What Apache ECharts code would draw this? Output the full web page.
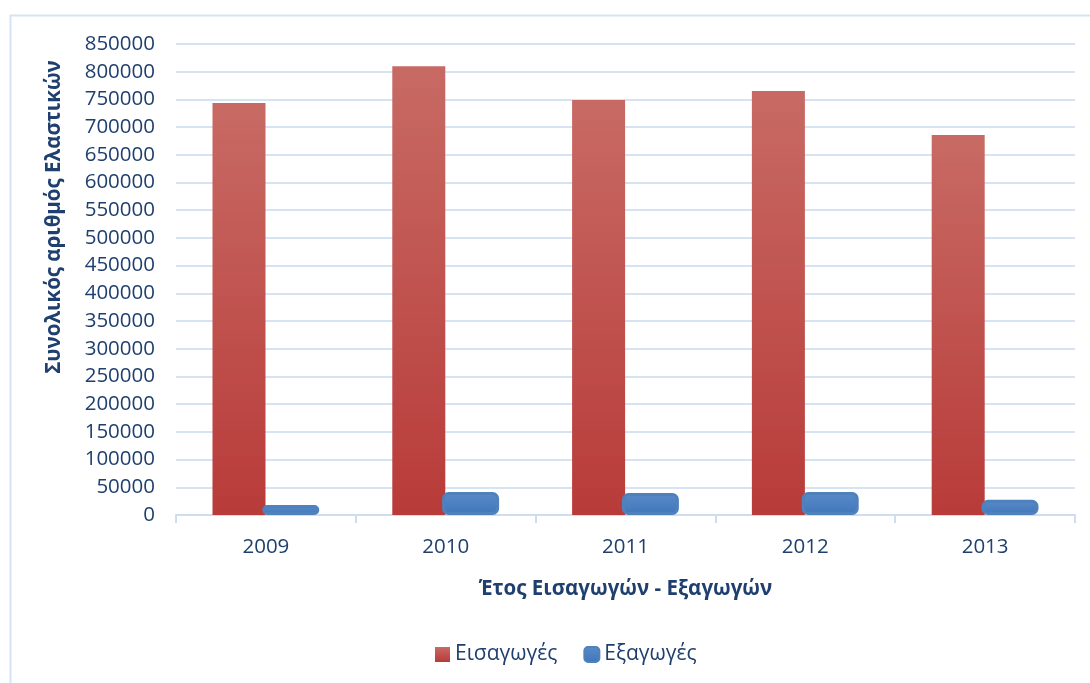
<!DOCTYPE html>
<html><head><meta charset="utf-8">
<script src="https://cdn.jsdelivr.net/npm/echarts@6/dist/echarts.min.js"></script>
<style>html,body{margin:0;padding:0;background:#fff}#c{width:1090px;height:683px}</style>
</head><body><div id="c"></div>
<script>
const categories = ['2009','2010','2011','2012','2013'];
const imports = [743500, 810000, 749000, 765000, 686000];
const exports = [18000, 41500, 39500, 41500, 27500];
const seriesNames = ['Εισαγωγές','Εξαγωγές'];
const yTitle = 'Συνολικός αριθμός Ελαστικών';
const xTitle = 'Έτος Εισαγωγών - Εξαγωγών';

const txt = '#1F3F6E';
const font = '"Open Sans", "Noto Sans", sans-serif';
const chart = echarts.init(document.getElementById('c'));
chart.setOption({
  animation:false,
  backgroundColor:'#fff',
  graphic:[
    {type:'rect',shape:{x:10.5,y:15.5,width:1100,height:700},style:{fill:'none',stroke:'#D6E3F3',lineWidth:2},silent:true},
    {type:'text',x:54,y:217,rotation:Math.PI/2,silent:true,
      style:{text:yTitle,fill:txt,font:'bold 20.5px "Open Sans", "Noto Sans", sans-serif',textAlign:'center',textVerticalAlign:'middle'}}
  ],
  grid:{left:176,right:15,top:44,bottom:168,containLabel:false},
  legend:{bottom:13,left:430,itemWidth:15,itemHeight:15,itemGap:26,
    textStyle:{color:txt,fontSize:21,fontFamily:font},
    data:[{name:seriesNames[0],icon:'rect'},{name:seriesNames[1],icon:'roundRect'}]},
  xAxis:{type:'category',data:categories,
    name:xTitle,nameLocation:'middle',nameGap:64,
    nameTextStyle:{color:txt,fontSize:20.5,fontWeight:'bold',fontFamily:font},
    axisLine:{lineStyle:{color:'#D0DDF0',width:2}},
    axisTick:{show:true,length:8,lineStyle:{color:'#D0DDF0',width:2}},
    axisLabel:{color:txt,fontSize:20.5,fontFamily:font,margin:22}},
  yAxis:{type:'value',min:0,max:850000,interval:50000,
    axisLine:{show:false},axisTick:{show:false},
    axisLabel:{color:txt,fontSize:20.5,fontFamily:font,margin:21,formatter:v=>String(v)},
    splitLine:{lineStyle:{color:'#D6E3F3',width:2}}},
  series:[
    {name:seriesNames[0],type:'bar',data:imports,barWidth:53,barGap:'-6%',
      itemStyle:{color:new echarts.graphic.LinearGradient(0,0,0,1,[{offset:0,color:'#C86A64'},{offset:1,color:'#B83B39'}])}},
    {name:seriesNames[1],type:'bar',data:exports,barWidth:57,z:3,
      itemStyle:{color:new echarts.graphic.LinearGradient(0,0,0,1,[{offset:0,color:'#5A8BC8'},{offset:1,color:'#3F76BA'}]),
        borderColor:'#4F81BD',borderWidth:3,borderRadius:5}}
  ]
});
</script></body></html>
